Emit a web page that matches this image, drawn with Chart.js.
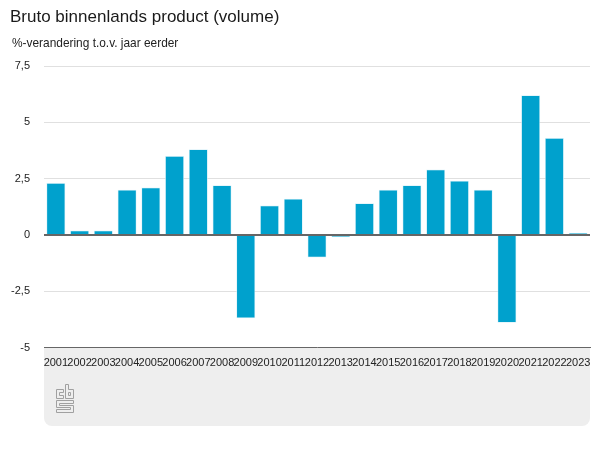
<!DOCTYPE html>
<html>
<head>
<meta charset="utf-8">
<script src="https://cdn.jsdelivr.net/npm/chart.js@4"></script>
<style>
  html, body { margin: 0; padding: 0; background: #fff; }
  #wrap { width: 600px; height: 450px; }
</style>
</head>
<body>
<div id="wrap"><canvas id="barChart"></canvas></div>
<script>
const years = ["2001","2002","2003","2004","2005","2006","2007","2008","2009","2010","2011","2012",
  "2013","2014","2015","2016","2017","2018","2019","2020","2021","2022","2023"];
const volumeChange = [2.3,0.2,0.2,2.0,2.1,3.5,3.8,2.2,-3.7,1.3,1.6,-1.0,-0.1,1.4,2.0,2.2,2.9,2.4,2.0,-3.9,6.2,4.3,0.1];
const yMin = -5;
const yMax = 7.5;
const yStep = 2.5;
const unitLabel = "%-verandering t.o.v. jaar eerder";

const fontName = "'Liberation Sans', Arial, sans-serif";

// grey footer panel behind the year labels, plus the unit label and logo
const footerPanel = {
  id: "footerPanel",
  beforeDraw(chart) {
    const ctx = chart.ctx;
    ctx.save();
    ctx.fillStyle = "#eeeeee";
    ctx.beginPath();
    ctx.roundRect(44, 348, 546, 78, [0, 0, 8, 8]);
    ctx.fill();
    ctx.fillStyle = "#222222";
    ctx.font = "11.9px " + fontName;
    ctx.textBaseline = "middle";
    ctx.fillText(unitLabel, 12, 44);
    ctx.restore();
  },
  afterDraw(chart) {
    // cbs logo, outlined letters
    const ctx = chart.ctx;
    const shapes = [
      [[64,390],[57,390],[57,399],[64,399],[64,396],[60,396],[60,393],[64,393]],
      [[66,385],[69,385],[69,390],[74,390],[74,399],[66,399]],
      [[69,393],[71,393],[71,396],[69,396]],
      [[74,401],[57,401],[57,408],[71,408],[71,410],[57,410],[57,413],[74,413],[74,406],[60,406],[60,404],[74,404]]
    ];
    ctx.save();
    ctx.strokeStyle = "#a0a0a0";
    ctx.lineWidth = 1;
    ctx.beginPath();
    shapes.forEach((pts) => {
      pts.forEach((p, i) => {
        if (i === 0) ctx.moveTo(p[0] - 0.5, p[1] - 0.5);
        else ctx.lineTo(p[0] - 0.5, p[1] - 0.5);
      });
      ctx.closePath();
    });
    ctx.stroke();
    ctx.restore();
  }
};

// zero line sits on top of the bars
const zeroLine = {
  id: "zeroLine",
  afterDatasetsDraw(chart) {
    const ctx = chart.ctx;
    const y = chart.scales.y.getPixelForValue(0);
    ctx.save();
    ctx.strokeStyle = "#666666";
    ctx.lineWidth = 2;
    ctx.beginPath();
    ctx.moveTo(chart.chartArea.left, y);
    ctx.lineTo(chart.chartArea.right, y);
    ctx.stroke();
    ctx.restore();
  }
};

new Chart(document.getElementById("barChart"), {
  type: "bar",
  data: {
    labels: years,
    datasets: [{
      data: volumeChange,
      backgroundColor: "#00a1cd",
      borderColor: "#d5f0f8",
      borderWidth: 0.75,
      barPercentage: 0.8,
      categoryPercentage: 1
    }]
  },
  options: {
    responsive: true,
    maintainAspectRatio: false,
    animation: false,
    layout: { padding: { left: 10, right: 10, top: 7, bottom: 0 } },
    plugins: {
      legend: { display: false },
      tooltip: { enabled: false },
      title: {
        display: true,
        text: "Bruto binnenlands product (volume)",
        align: "start",
        color: "#1a1a1a",
        font: { family: fontName, size: 17, weight: "normal" },
        padding: { top: 0, bottom: 38.6 }
      }
    },
    scales: {
      x: {
        afterFit(scale) { scale.height = 102.5; },
        grid: { display: false, drawTicks: false },
        border: { display: true, color: "#666666", width: 1 },
        ticks: {
          autoSkip: false,
          maxRotation: 0,
          minRotation: 0,
          padding: 9,
          color: "#222222",
          font: { family: fontName, size: 11 }
        }
      },
      y: {
        min: yMin,
        max: yMax,
        afterFit(scale) { scale.width = 34; },
        grid: { color: "#e0e0e0", drawTicks: false },
        border: { display: false },
        ticks: {
          stepSize: yStep,
          padding: 14,
          color: "#222222",
          font: { family: fontName, size: 11 },
          callback: (v) => String(v).replace(".", ",")
        }
      }
    }
  },
  plugins: [footerPanel, zeroLine]
});
</script>
</body>
</html>
